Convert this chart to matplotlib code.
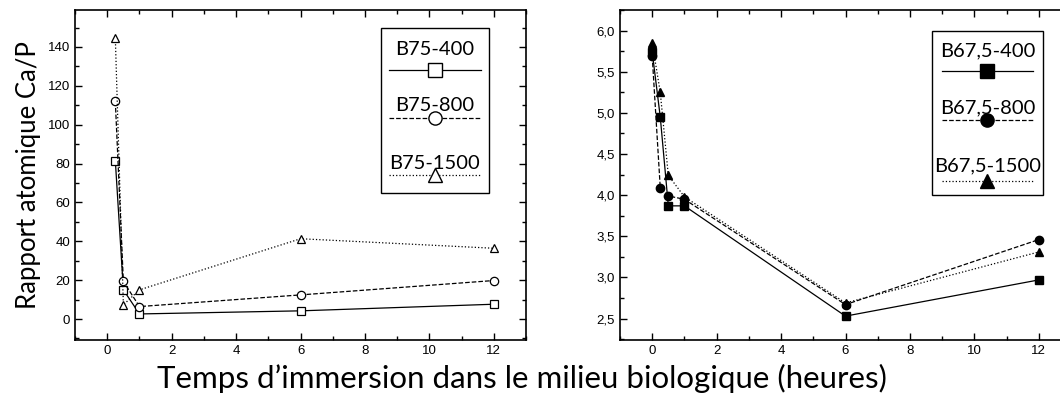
import matplotlib
matplotlib.use("Agg")
import matplotlib.pyplot as plt
from matplotlib.ticker import MultipleLocator, FuncFormatter
from matplotlib.lines import Line2D
from matplotlib.patches import Rectangle

# ── Data ───────────────────────────────────────────────────────────────────────
t_b75 = [0.25, 0.5, 1, 6, 12]
b75_400 = [81.5, 15.0, 2.6, 4.2, 7.6]
b75_800 = [112.0, 19.3, 6.4, 12.4, 19.8]
b75_1500 = [144.8, 7.3, 15.0, 41.3, 36.4]
labels_b75 = ["B75-400", "B75-800", "B75-1500"]

t_b675 = [0, 0.25, 0.5, 1, 6, 12]
b675_400 = [5.74, 4.95, 3.87, 3.87, 2.53, 2.97]
b675_800 = [5.69, 4.09, 3.99, 3.95, 2.67, 3.46]
b675_1500 = [5.85, 5.25, 4.24, 3.98, 2.69, 3.31]
labels_b675 = ["B67,5-400", "B67,5-800", "B67,5-1500"]

xlabel = "Temps d\u2019immersion dans le milieu biologique (heures)"
ylabel = "Rapport atomique Ca/P"

tick_font = "Liberation Sans"
text_font = "Lato"

styles = [('-', 's'), ('--', 'o'), (':', '^')]

fig = plt.figure(figsize=(10.6, 3.99), dpi=100)
ax1 = fig.add_axes([0.0708, 0.1479, 0.4255, 0.827])
ax2 = fig.add_axes([0.5849, 0.1479, 0.4255, 0.827])


def style_axes(ax):
    ax.tick_params(which='both', direction='in', top=True, right=True,
                   labelsize=9.5, width=1)
    ax.tick_params(which='major', length=5)
    ax.tick_params(which='minor', length=3)
    for lab in ax.get_xticklabels() + ax.get_yticklabels():
        lab.set_fontfamily(tick_font)
    for s in ax.spines.values():
        s.set_linewidth(1.2)
    ax.xaxis.set_major_locator(MultipleLocator(2))
    ax.xaxis.set_minor_locator(MultipleLocator(1))
    ax.set_xlim(-1, 13)


def draw_legend(ax, labels, filled, box, text_y, line_y, x0, x1):
    # legend drawn by hand: label above, sample line with marker below
    ax.add_patch(Rectangle((box[0], box[1]), box[2] - box[0], box[3] - box[1],
                           transform=ax.transAxes, fill=False, lw=1, ec='black',
                           zorder=5))
    xm = (x0 + x1) / 2
    for (ls, mk), lab, ty, ly in zip(styles, labels, text_y, line_y):
        ax.text(xm, ty, lab, transform=ax.transAxes, ha='center', va='baseline',
                fontsize=14.5, family=text_font, zorder=6)
        ax.add_line(Line2D([x0, x1], [ly, ly], transform=ax.transAxes,
                           color='black', lw=0.9, ls=ls, zorder=6))
        ax.add_line(Line2D([xm], [ly], transform=ax.transAxes, marker=mk,
                           markersize=9.5, color='black',
                           mfc='black' if filled else 'white', mew=1, zorder=7))


# ── Left: B75 ─────────────────────────────────────────────────────────────────
for (ls, mk), y in zip(styles, [b75_400, b75_800, b75_1500]):
    ax1.plot(t_b75, y, ls=ls, marker=mk, color='black', lw=0.9,
             mfc='white', mec='black', markersize=6, mew=0.9)
ax1.set_ylim(-10.8, 159)
ax1.yaxis.set_major_locator(MultipleLocator(20))
ax1.yaxis.set_minor_locator(MultipleLocator(10))
style_axes(ax1)
draw_legend(ax1, labels_b75, False, (0.678, 0.445, 0.918, 0.945),
            [0.864, 0.695, 0.517], [0.818, 0.672, 0.50], 0.696, 0.900)

# ── Right: B67,5 ──────────────────────────────────────────────────────────────
for (ls, mk), y in zip(styles, [b675_400, b675_800, b675_1500]):
    ax2.plot(t_b675, y, ls=ls, marker=mk, color='black', lw=0.9,
             mfc='black', mec='black', markersize=6)
ax2.set_ylim(2.24, 6.25)
ax2.yaxis.set_major_locator(MultipleLocator(0.5))
ax2.yaxis.set_minor_locator(MultipleLocator(0.25))
ax2.yaxis.set_major_formatter(FuncFormatter(lambda v, p: f"{v:.1f}".replace('.', ',')))
style_axes(ax2)
draw_legend(ax2, labels_b675, True, (0.692, 0.439, 0.938, 0.936),
            [0.858, 0.687, 0.510], [0.816, 0.667, 0.483], 0.713, 0.916)

fig.text(0.027, 0.56, ylabel, rotation=90, ha='center', va='center',
         fontsize=18.5, family=text_font)
fig.text(0.492, 0.052, xlabel, ha='center', va='center',
         fontsize=22.5, family=text_font)

fig.savefig("out.png", dpi=100)
